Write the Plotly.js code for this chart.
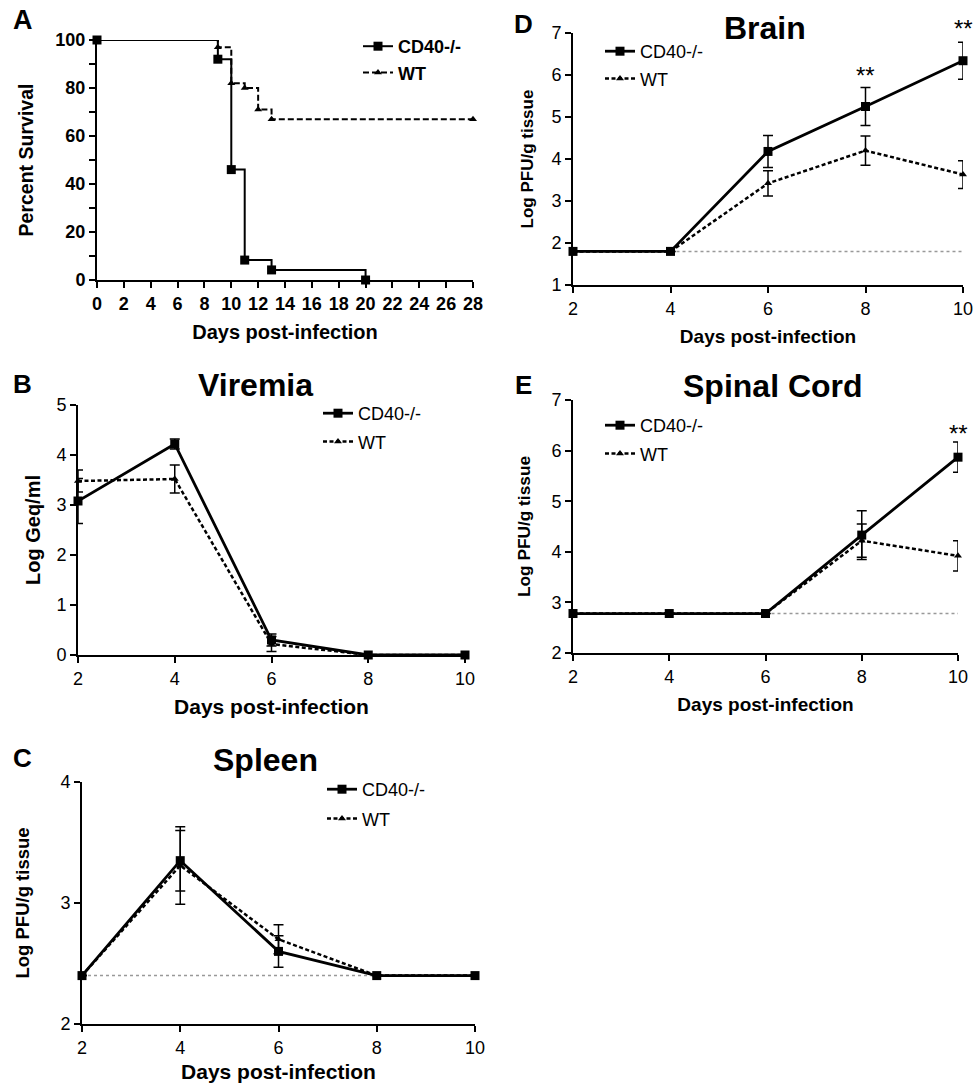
<!DOCTYPE html>
<html><head><meta charset="utf-8">
<script src="https://cdn.plot.ly/plotly-3.0.1.min.js"></script>
<style>body{margin:0;padding:0;background:#fff}</style>
</head><body><div id="chart" style="width:973px;height:1083px"></div>
<script>
// ---------- DATA ----------
// Panel A: Kaplan-Meier survival
const survDaysCD40 = [0, 9, 10, 11, 13, 20];
const survCD40     = [100, 92, 46, 8.3, 4.2, 0];
const survDaysWT   = [0, 9, 10, 11, 12, 13, 28];
const survWT       = [100, 97, 82, 80, 71, 67, 67];

const days = [2, 4, 6, 8, 10];
// Panel B: Viremia (Log Geq/ml)
const viremiaCD40    = [3.08, 4.22, 0.3, 0, 0];
const viremiaCD40Err = [0.45, 0.1, 0.12, 0, 0];
const viremiaWT      = [3.48, 3.52, 0.22, 0, 0];
const viremiaWTErr   = [0.22, 0.28, 0.15, 0, 0];
// Panel C: Spleen
const spleenCD40    = [2.4, 3.35, 2.6, 2.4, 2.4];
const spleenCD40Err = [0, 0.25, 0.13, 0, 0];
const spleenWT      = [2.4, 3.31, 2.7, 2.4, 2.4];
const spleenWTErr   = [0, 0.32, 0.12, 0, 0];
const spleenLimitX  = [2, 10];
const spleenLimitY  = [2.4, 2.4];
// Panel D: Brain
const brainCD40    = [1.8, 1.8, 4.18, 5.25, 6.34];
const brainCD40Err = [0, 0, 0.38, 0.45, 0.44];
const brainWT      = [1.8, 1.8, 3.42, 4.2, 3.63];
const brainWTErr   = [0, 0, 0.3, 0.35, 0.33];
const brainLimitX  = [4, 10];
const brainLimitY  = [1.8, 1.8];
const brainSigX    = [8, 10];
const brainSigY    = [5.98, 7.1];
// Panel E: Spinal cord
const cordCD40    = [2.78, 2.78, 2.78, 4.33, 5.87];
const cordCD40Err = [0, 0, 0, 0.48, 0.3];
const cordWT      = [2.78, 2.78, 2.78, 4.22, 3.92];
const cordWTErr   = [0, 0, 0, 0.33, 0.3];
const cordLimitX  = [6, 10];
const cordLimitY  = [2.78, 2.78];
const cordSigX    = [10];
const cordSigY    = [6.33];

const seriesNames = ['CD40-/-', 'WT'];
const xTicks = [2, 4, 6, 8, 10];
const survTicks = [0,2,4,6,8,10,12,14,16,18,20,22,24,26,28];
const rangeD = [1, 7];
const rangeE = [2, 7];

// ---------- LAYOUT HELPERS ----------
const W = 973, H = 1083;
const FONT = '"Liberation Sans", Arial, sans-serif';
function dx(a, b) { return [a / W, b / W]; }
function dy(top, bottom) { return [1 - bottom / H, 1 - top / H]; }

function errT(arr) {
  return {type: 'data', array: arr, visible: true, color: '#000', thickness: 1.5, width: 5};
}
function cdTrace(x, y, err, ax, leg) {
  const t = {x: x, y: y, name: seriesNames[0], mode: 'lines+markers', xaxis: 'x' + ax, yaxis: 'y' + ax,
    legend: leg, legendgroup: 'a' + ax, legendrank: 1, cliponaxis: false,
    line: {color: '#000', width: 2.8}, marker: {symbol: 'square', size: 9, color: '#000'}};
  if (err) t.error_y = errT(err);
  return t;
}
function wtTrace(x, y, err, ax, leg) {
  const t = {x: x, y: y, name: seriesNames[1], mode: 'lines+markers', xaxis: 'x' + ax, yaxis: 'y' + ax,
    legend: leg, legendgroup: 'b' + ax, legendrank: 2, cliponaxis: false,
    line: {color: '#000', width: 2.5, dash: '4px,2.5px'}, marker: {symbol: 'triangle-up', size: 7, color: '#000'}};
  if (err) t.error_y = errT(err);
  return t;
}
function limTrace(x, y, ax) {
  return {x: x, y: y, mode: 'lines', xaxis: 'x' + ax, yaxis: 'y' + ax, showlegend: false, hoverinfo: 'skip',
    line: {color: '#999', width: 1.5, dash: 'dot'}};
}

const traces = [];
// A
traces.push({x: survDaysWT, y: survWT, name: seriesNames[1], mode: 'lines+markers', line: {shape: 'hv', color: '#000', width: 2, dash: '6px,3px'},
  marker: {symbol: 'triangle-up', size: 7, color: '#000'}, xaxis: 'x', yaxis: 'y', legend: 'legend', legendgroup: 'b1', legendrank: 2, cliponaxis: false});
traces.push({x: survDaysCD40, y: survCD40, name: seriesNames[0], mode: 'lines+markers', line: {shape: 'hv', color: '#000', width: 2},
  marker: {symbol: 'square', size: 9, color: '#000'}, xaxis: 'x', yaxis: 'y', legend: 'legend', legendgroup: 'a1', legendrank: 1, cliponaxis: false});
// B
traces.push(cdTrace(days, viremiaCD40, viremiaCD40Err, 2, 'legend2'));
traces.push(wtTrace(days, viremiaWT, viremiaWTErr, 2, 'legend2'));
// C
traces.push(limTrace(spleenLimitX, spleenLimitY, 3));
traces.push(cdTrace(days, spleenCD40, spleenCD40Err, 3, 'legend3'));
traces.push(wtTrace(days, spleenWT, spleenWTErr, 3, 'legend3'));
// D
traces.push(limTrace(brainLimitX, brainLimitY, 4));
traces.push(cdTrace(days, brainCD40, brainCD40Err, 4, 'legend4'));
traces.push(wtTrace(days, brainWT, brainWTErr, 4, 'legend4'));
// E
traces.push(limTrace(cordLimitX, cordLimitY, 5));
traces.push(cdTrace(days, cordCD40, cordCD40Err, 5, 'legend5'));
traces.push(wtTrace(days, cordWT, cordWTErr, 5, 'legend5'));

function xAx(dom, anchor, range, ticks, bold, tsize) {
  return {domain: dom, anchor: anchor, range: range, tickvals: ticks, ticktext: ticks.map(String),
    showline: true, linecolor: '#000', linewidth: 2, ticks: 'outside', ticklen: 6, tickwidth: 2, tickcolor: '#000',
    showgrid: false, zeroline: false, fixedrange: true, ticklabeloverflow: 'allow',
    tickfont: {family: FONT, size: 18, color: '#000', weight: bold ? 'bold' : 'normal'},
    title: {text: '<b>Days post-infection</b>', font: {family: FONT, size: tsize, color: '#000'}, standoff: 12}};
}
function yAx(dom, anchor, range, dtick, title, bold, tsize, standoff, minor) {
  const a = {domain: dom, anchor: anchor, range: range, dtick: dtick, tick0: 0,
    showline: true, linecolor: '#000', linewidth: 2, ticks: 'outside', ticklen: 6, tickwidth: 2, tickcolor: '#000',
    showgrid: false, zeroline: false, fixedrange: true, ticklabeloverflow: 'allow',
    tickfont: {family: FONT, size: 18, color: '#000', weight: bold ? 'bold' : 'normal'},
    title: {text: '<b>' + title + '</b>', font: {family: FONT, size: tsize, color: '#000'}, standoff: standoff}};
  if (minor) a.minor = {dtick: minor, ticks: 'outside', ticklen: 6, tickwidth: 2, tickcolor: '#000', showgrid: false};
  return a;
}
function leg(xpx, ypx, bold, gap) {
  return {x: xpx / W, y: 1 - ypx / H, xanchor: 'left', yanchor: 'top', bgcolor: 'rgba(0,0,0,0)', borderwidth: 0,
    font: {family: FONT, size: 18, color: '#000', weight: bold ? 'bold' : 'normal'}, tracegroupgap: gap, traceorder: 'grouped',
    itemclick: false, itemdoubleclick: false};
}
function ann(text, xpx, ypx, size) {
  return {text: '<b>' + text + '</b>', x: xpx / W, y: 1 - ypx / H, xref: 'paper', yref: 'paper', showarrow: false,
    xanchor: 'center', yanchor: 'middle', font: {family: FONT, size: size, color: '#000'}};
}
// significance marks: x in data units, y converted to the axis domain so marks above the range still show
function sigAnns(xs, ys, ax, range) {
  return xs.map((x, i) => ({text: '**', x: x, y: (ys[i] - range[0]) / (range[1] - range[0]),
    xref: 'x' + ax, yref: 'y' + ax + ' domain', showarrow: false,
    xanchor: 'center', yanchor: 'middle', font: {family: FONT, size: 24, color: '#000'}}));
}

const layout = {
  width: W, height: H, margin: {l: 0, r: 0, t: 0, b: 0}, paper_bgcolor: '#fff', plot_bgcolor: '#fff',
  font: {family: FONT, color: '#000'},
  xaxis: xAx(dx(97, 473), 'y', [0, 28], survTicks, true, 20),
  yaxis: yAx(dy(40, 280), 'x', [0, 100], 20, 'Percent Survival', true, 19.5, 17, 10),
  xaxis2: xAx(dx(78, 465), 'y2', [2, 10], xTicks, false, 21),
  yaxis2: yAx(dy(405, 655), 'x2', [0, 5], 1, 'Log Geq/ml', false, 20, 10),
  xaxis3: xAx(dx(82, 475), 'y3', [2, 10], xTicks, false, 21),
  yaxis3: yAx(dy(782, 1024), 'x3', [2, 4], 1, 'Log PFU/g tissue', false, 18.5, 26),
  xaxis4: xAx(dx(573, 963), 'y4', [2, 10], xTicks, false, 19),
  yaxis4: yAx(dy(33, 285), 'x4', rangeD, 1, 'Log PFU/g tissue', false, 17, 13),
  xaxis5: xAx(dx(573, 958), 'y5', [2, 10], xTicks, false, 19),
  yaxis5: yAx(dy(400, 653), 'x5', rangeE, 1, 'Log PFU/g tissue', false, 17.3, 16),
  legend: leg(358, 28, true, 0),
  legend2: leg(318, 395, false, 2),
  legend3: leg(322, 771, false, 3),
  legend4: leg(600, 33, false, 1),
  legend5: leg(600, 407, false, 2),
  annotations: [
    ann('A', 23, 20, 27), ann('B', 22, 384, 26), ann('C', 22, 758, 26), ann('D', 523, 24, 26), ann('E', 523, 385, 26),
    ann('Viremia', 255, 385, 32), ann('Spleen', 265, 760, 32), ann('Brain', 765, 28, 32), ann('Spinal Cord', 773, 386, 32)
  ].concat(sigAnns(brainSigX, brainSigY, 4, rangeD), sigAnns(cordSigX, cordSigY, 5, rangeE)),
  showlegend: true
};

Plotly.newPlot('chart', traces, layout, {displayModeBar: false, staticPlot: true});
</script></body></html>
